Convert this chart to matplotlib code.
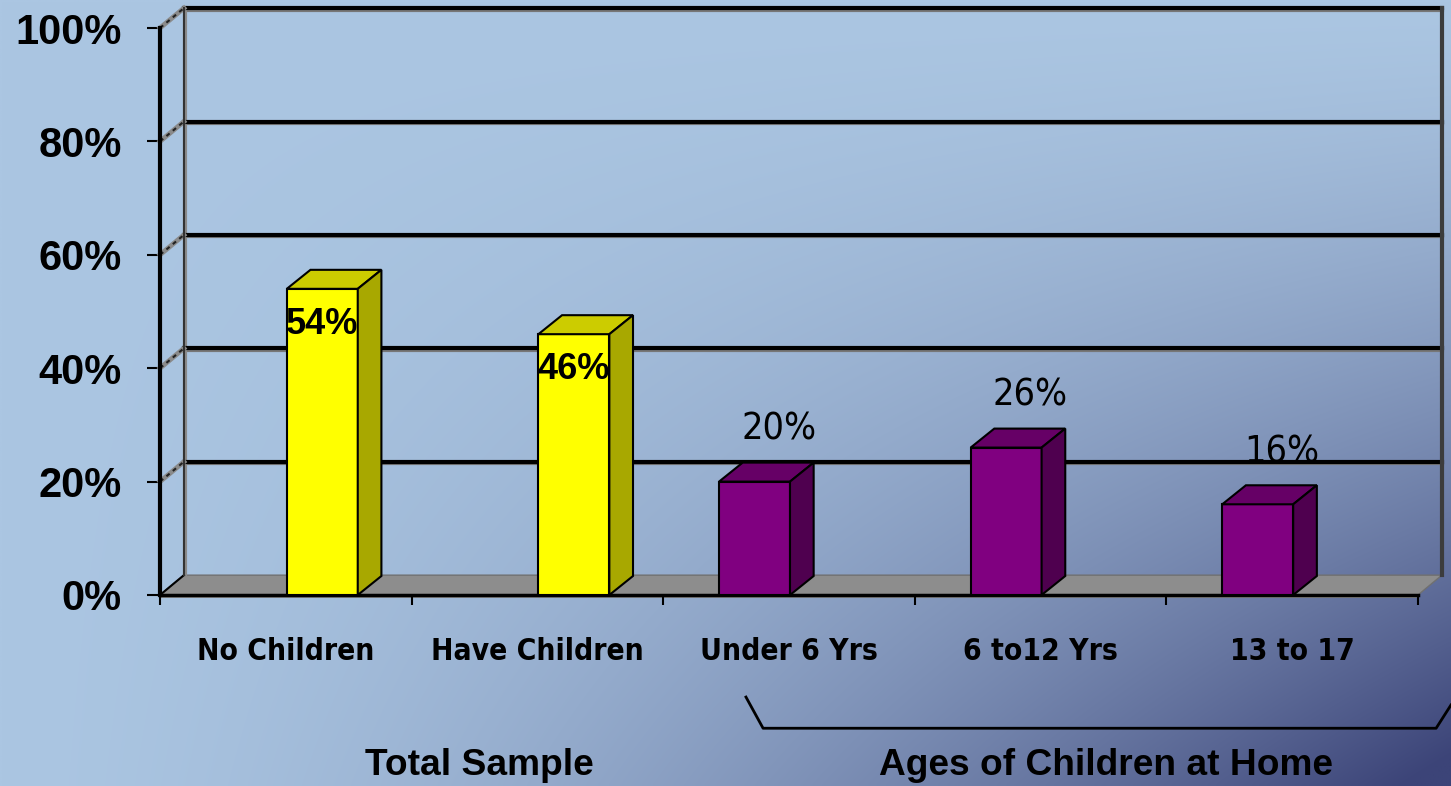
import numpy as np
import matplotlib
matplotlib.use("Agg")
import matplotlib.pyplot as plt
from matplotlib.patches import Polygon, Rectangle

categories = ["No Children", "Have Children", "Under 6 Yrs", "6 to12 Yrs", "13 to 17"]
total_sample = [54, 46, 0, 0, 0]
ages_at_home = [0, 0, 20, 26, 16]
y_ticks = [0, 20, 40, 60, 80, 100]
group_labels = ["Total Sample", "Ages of Children at Home"]

W, H = 1451, 786
fig = plt.figure(figsize=(W / 100, H / 100), dpi=100)

# background gradient: light blue, darkening toward bottom-right
bg = fig.add_axes([0, 0, 1, 1], zorder=-10)
gx, gy = np.meshgrid(np.linspace(0, 1, 400), np.linspace(0, 1, 220))
t = np.clip(gx ** 1.6 * gy ** 1.4 * 1.05, 0, 1)
light = np.array([171, 198, 226]) / 255
dark = np.array([60, 68, 120]) / 255
img = light[None, None, :] * (1 - t[..., None]) + dark[None, None, :] * t[..., None]
bg.imshow(img, aspect="auto", extent=[0, 1, 1, 0], interpolation="bilinear")
bg.set_xlim(0, 1)
bg.set_ylim(1, 0)
bg.axis("off")

ax = fig.add_axes([160 / W, (H - 595) / H, 1258 / W, 567 / H])
ax.set_facecolor("none")
n = len(categories)
ax.set_xlim(0, n)
ax.set_ylim(0, 100)
for s in ax.spines.values():
    s.set_visible(False)

DX, DY = 0.095, 3.5     # wall depth
BDX, BDY = 0.094, 3.35  # bar depth

# floor
ax.add_patch(Polygon([(0, 0), (n, 0), (n + DX, DY), (DX, DY)], closed=True,
                     fc="#8d8d8d", ec="#707070", lw=1, clip_on=False, zorder=1))
ax.add_patch(Polygon([(0, 0), (n, 0), (n, -0.6), (0, -0.6)], closed=True,
                     fc="#8d8d8d", ec="none", clip_on=False, zorder=1))
ax.plot([0, n], [0, 0], color="black", lw=2.5, clip_on=False, zorder=2)
ax.plot([0, DX], [0, DY], color="black", lw=1.5, clip_on=False, zorder=2)

# back wall grid lines and side wall diagonals
for v in y_ticks[1:]:
    ax.plot([DX, n + DX], [v + DY - 0.25, v + DY - 0.25], color="#777777", lw=3,
            clip_on=False, zorder=1)
    ax.plot([DX, n + DX], [v + DY, v + DY], color="black", lw=3,
            clip_on=False, zorder=2)
    ax.plot([0, DX], [v, v + DY], color="#8a8a8a", lw=3.5, clip_on=False, zorder=2)
    ax.plot([0, DX], [v, v + DY], color="#222222", lw=1.5, ls=(0, (2, 2)),
            clip_on=False, zorder=2)
ax.plot([DX + 0.006, DX + 0.006], [DY, 100 + DY], color="#8a8a8a", lw=3,
        clip_on=False, zorder=1)
ax.plot([DX, DX], [DY, 100 + DY], color="#333333", lw=1.5, clip_on=False, zorder=2)
ax.plot([n + DX, n + DX], [DY, 100 + DY], color="#3c3c3c", lw=3, clip_on=False, zorder=2)
ax.plot([0, 0], [0, 100], color="black", lw=3, clip_on=False, zorder=3)

# bars
bw = 0.282
series = [
    (ages_at_home, 0.222, ("#800080", "#660066", "#4f004f")),
    (total_sample, 0.504, ("#ffff00", "#cccc00", "#a8a800")),
]
for vals, off, (front, top, side) in series:
    for i, v in enumerate(vals):
        if v <= 0:
            continue
        x0 = i + off
        ax.add_patch(Rectangle((x0, 0), bw, v, fc=front, ec="black", lw=1.5, zorder=5))
        ax.add_patch(Polygon([(x0, v), (x0 + bw, v), (x0 + bw + BDX, v + BDY),
                              (x0 + BDX, v + BDY)], closed=True,
                             fc=top, ec="black", lw=1.5, zorder=5, clip_on=False))
        ax.add_patch(Polygon([(x0 + bw, 0), (x0 + bw + BDX, BDY),
                              (x0 + bw + BDX, v + BDY), (x0 + bw, v)], closed=True,
                             fc=side, ec="black", lw=1.5, zorder=5, clip_on=False))

# value labels
for i, v in enumerate(total_sample):
    if v > 0:
        ax.text(i + 0.504 + bw / 2, v - 6.3, f"{v}%", ha="center", va="center",
                fontsize=26, fontweight="bold", family="Liberation Sans", zorder=6)
for i, v in enumerate(ages_at_home):
    if v > 0:
        ax.text(i + 0.222 + 0.238, v + 9.2, f"{v}%", ha="center", va="center",
                fontsize=27, family="DejaVu Sans", fontstretch="condensed", zorder=6)

# axes ticks
ax.set_yticks(y_ticks)
ax.set_yticklabels([f"{v}%" for v in y_ticks], fontsize=30, fontweight="bold",
                   family="Liberation Sans")
ax.tick_params(axis="y", length=9.4, width=1.5, pad=18, color="black")
ax.set_xticks(range(n + 1))
ax.set_xticklabels([])
ax.tick_params(axis="x", which="major", length=7.5, width=1.5, direction="out")
ax.set_xticks([i + 0.5 for i in range(n)], minor=True)
ax.set_xticklabels(categories, minor=True, fontsize=21.5, fontweight="bold",
                   family="DejaVu Sans", fontstretch="condensed")
ax.tick_params(axis="x", which="minor", length=0, pad=30)

# group bracket and labels
ax.plot([2.329, 2.397, 5.072, 5.131], [-18.0, -23.5, -23.5, -19.4], color="black",
        lw=2, clip_on=False)
ax.text(1.27, -30.0, group_labels[0], ha="center", va="center", fontsize=26.7,
        fontweight="bold", family="Liberation Sans")
ax.text(3.76, -30.0, group_labels[1], ha="center", va="center", fontsize=26.7,
        fontweight="bold", family="Liberation Sans")

fig.savefig("out.png", dpi=100)
